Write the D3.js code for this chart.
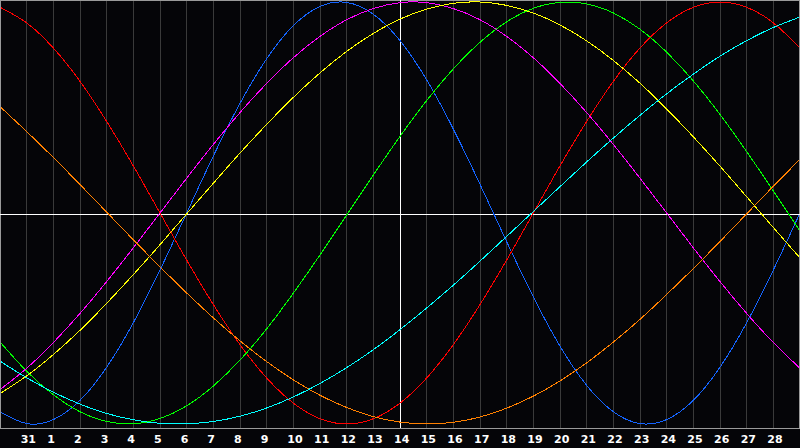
<!DOCTYPE html>
<html><head><meta charset="utf-8">
<script src="https://cdn.jsdelivr.net/npm/d3@7"></script>
<style>html,body{margin:0;padding:0;background:#050508;}svg{display:block;}</style>
</head><body>
<script>
// Day labels (t = 0 .. 30); left edge is the 30th of previous month
const days = ["30","31","1","2","3","4","5","6","7","8","9","10","11","12","13","14","15","16","17","18","19","20","21","22","23","24","25","26","27","28","29"];
const todayIndex = 15;
// Series values (-1 .. 1), one per day
const physical = [-0.942,-0.998,-0.979,-0.888,-0.731,-0.520,-0.270,0.000,0.270,0.520,0.731,0.888,0.979,0.998,0.942,0.817,0.631,0.398,0.136,-0.136,-0.398,-0.631,-0.817,-0.942,-0.998,-0.979,-0.888,-0.731,-0.520,-0.270,0.000];
const emotional = [0.975,0.901,0.782,0.624,0.434,0.223,0.000,-0.223,-0.434,-0.624,-0.782,-0.901,-0.975,-1.000,-0.975,-0.901,-0.782,-0.624,-0.434,-0.223,0.000,0.223,0.434,0.624,0.782,0.901,0.975,1.000,0.975,0.901,0.782];
const intellectual = [-0.611,-0.750,-0.861,-0.942,-0.988,-0.999,-0.974,-0.914,-0.820,-0.697,-0.549,-0.380,-0.199,-0.010,0.180,0.363,0.533,0.683,0.809,0.906,0.970,0.998,0.991,0.948,0.871,0.762,0.626,0.467,0.291,0.105,-0.086];
const intuitive = [-0.837,-0.736,-0.614,-0.476,-0.325,-0.165,0.000,0.165,0.325,0.476,0.614,0.736,0.837,0.916,0.969,0.997,0.997,0.969,0.916,0.837,0.736,0.614,0.476,0.325,0.165,0.000,-0.165,-0.325,-0.476,-0.614,-0.736];
const aesthetic = [-0.856,-0.772,-0.671,-0.556,-0.428,-0.292,-0.150,-0.004,0.141,0.284,0.420,0.548,0.664,0.766,0.851,0.919,0.966,0.994,1.000,0.984,0.948,0.891,0.816,0.723,0.615,0.493,0.361,0.222,0.077,-0.069,-0.213];
const awareness = [0.504,0.386,0.263,0.135,0.004,-0.127,-0.255,-0.379,-0.497,-0.606,-0.704,-0.791,-0.864,-0.922,-0.965,-0.991,-1.000,-0.992,-0.967,-0.925,-0.868,-0.796,-0.710,-0.612,-0.504,-0.386,-0.263,-0.135,-0.004,0.127,0.255];
const spiritual = [-0.702,-0.781,-0.849,-0.906,-0.950,-0.980,-0.997,-0.999,-0.988,-0.963,-0.924,-0.872,-0.808,-0.733,-0.648,-0.553,-0.450,-0.342,-0.228,-0.111,0.007,0.125,0.242,0.355,0.463,0.565,0.658,0.743,0.817,0.879,0.929];

const seriesNames = ["physical","emotional","intellectual","intuitive","aesthetic","awareness","spiritual"];
const seriesColors = ["#1464ff","#ff0000","#00ff00","#ff00ff","#ffff00","#ff8000","#00ffff"];
const seriesValues = [physical,emotional,intellectual,intuitive,aesthetic,awareness,spiritual];

const W = 800, H = 448, plotBottom = 428;
const svg = d3.select("body").append("svg").attr("width", W).attr("height", H)
  .style("background", "#050508");

const x = d3.scaleLinear().domain([0, days.length - 1]).range([0, W]);
const y = d3.scaleLinear().domain([-1, 1]).range([424, 2]);
const px = v => Math.floor(v) + 0.5;

// vertical grid lines
const ticks = d3.range(1, days.length - 1);
svg.append("g").selectAll("line").data(ticks).join("line")
  .attr("x1", d => px(x(d))).attr("x2", d => px(x(d)))
  .attr("y1", 0).attr("y2", plotBottom)
  .attr("stroke", "#3a3a3a").attr("stroke-width", 1).attr("shape-rendering", "crispEdges");

// frame
svg.append("path")
  .attr("d", `M0.5,${plotBottom + 0.5}V0.5H799.5V${plotBottom + 0.5}H0.5`)
  .attr("fill", "none").attr("stroke", "#9a9a9a").attr("shape-rendering", "crispEdges");

// center lines
svg.append("line").attr("x1", 0).attr("x2", W).attr("y1", 214.5).attr("y2", 214.5)
  .attr("stroke", "#ffffff").attr("shape-rendering", "crispEdges");
svg.append("line").attr("x1", px(x(todayIndex))).attr("x2", px(x(todayIndex)))
  .attr("y1", 0).attr("y2", plotBottom)
  .attr("stroke", "#ffffff").attr("shape-rendering", "crispEdges");

// curves
const line = d3.line().x((d, i) => x(i)).y(d => y(d)).curve(d3.curveNatural);
const clip = svg.append("clipPath").attr("id", "clip").append("rect")
  .attr("x", 1).attr("y", 1).attr("width", W - 2).attr("height", plotBottom - 1);
svg.append("g").attr("clip-path", "url(#clip)").selectAll("path").data(seriesValues).join("path")
  .attr("d", d => line(d))
  .attr("fill", "none")
  .attr("stroke", (d, i) => seriesColors[i])
  .attr("stroke-width", 1)
  .attr("shape-rendering", "crispEdges");

// day labels
svg.append("g").selectAll("text").data(ticks).join("text")
  .attr("x", d => x(d) - 6).attr("y", 443)
  .attr("fill", "#ffffff")
  .attr("font-family", "DejaVu Sans, sans-serif")
  .attr("font-weight", "bold")
  .attr("font-size", "11px")
  .text(d => days[d]);
</script>
</body></html>
